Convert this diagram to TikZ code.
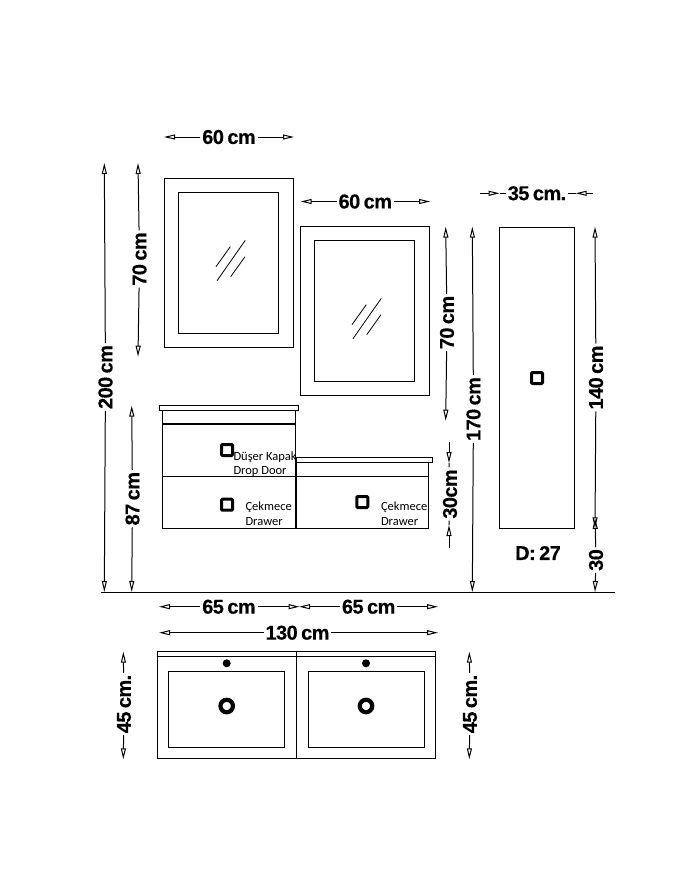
\documentclass[tikz,border=0pt]{standalone}
\usepackage{fontspec}
\setmainfont{Liberation Sans}
\newfontfamily\tagfont{Carlito}
\newfontfamily\dimfont[BoldFont=*,LetterSpace=-3,FakeBold=0.4,WordSpace=0.7]{Liberation Sans Bold}
\usetikzlibrary{
    arrows.meta,
    positioning
}

\begin{document}
\begin{tikzpicture}[x=1pt, y=-1pt, line width=1.1pt,
    dimlabel/.style={inner sep=2pt, outer sep=0pt, font=\dimfont\fontsize{20}{22}\selectfont},
    dimline/.style={line width=1pt, -{Triangle[open, length=11pt, width=5pt]}},
    dimstub/.style={line width=1pt},
    tag/.style={inner sep=0pt, anchor=west, font=\tagfont\fontsize{12.5}{13}\selectfont},
    handle/.style={line width=3pt, rounded corners=1pt}]
    \useasboundingbox (0,0) rectangle (700,880);

    % mirrors
    \foreach \dx/\dy/\gy in {0/0/0, 136/48/58} {
        \begin{scope}[shift={(\dx,\dy)}]
            \draw (164.5,178.5) rectangle (293.5,347.5);
            \draw (178.5,192.5) rectangle (278.5,333.5);
        \end{scope}
        \begin{scope}[shift={(\dx,\gy)}]
            \draw[line width=0.8pt] (216,266.7) -- (230.3,246.7)
                                    (217,280.7) -- (245.3,240.3)
                                    (230.7,276.7) -- (245,256.7);
        \end{scope}
    }

    % wall units
    \draw (159.3,405.3) rectangle (298.7,410.3);
    \draw (162.7,410.3) rectangle (295.7,528.3);
    \draw[line width=2pt] (162.7,424) -- (295.7,424);
    \draw (296,457.3) rectangle (432.7,462.3);
    \draw (296.7,462.3) rectangle (428.3,528.3);
    \draw (162.7,476.3) -- (428.3,476.3);
    \draw[line width=1.8pt] (296.2,462.3) -- (296.2,528.3);

    % tall cabinet
    \draw (499.5,227.3) rectangle (574.7,528.7);

    % handles
    \foreach \hx/\hy in {227/450, 227/504.7, 362.3/502, 537/378} {
        \draw[handle] (\hx-5.5,\hy-5.5) rectangle (\hx+5.5,\hy+5.5);
    }

    % floor
    \draw (101,592.5) -- (615,592.5);

    % basins from above
    \draw (157.3,651.3) rectangle (435.7,758.3);
    \draw (157.3,656.3) -- (435.7,656.3);
    \draw (296.4,651.3) -- (296.4,758.3);
    \draw (168.3,671.3) rectangle (284.7,747.3);
    \draw (308.3,671.3) rectangle (424.7,747.3);
    \foreach \bx in {226.7, 366} {
        \fill (\bx,663.3) circle [radius=4];
        \draw[line width=4.2pt] (\bx,706) circle [radius=6.25];
    }

    % labels on the fronts
    \node[tag] (dropA) at (233,457) {Düşer Kapak};
    \node[tag] (dropB) at (233,471) {Drop Door};
    \node[tag] (drawerA) at (245,507.5) {Çekmece};
    \node[tag] (drawerB) at (245,521.5) {Drawer};
    \node[tag] (drawerC) at (380.5,507.5) {Çekmece};
    \node[tag] (drawerD) at (380.5,521.5) {Drawer};

    % dimensions with tips at both ends
    \foreach \nm/\xa/\ya/\xb/\yb/\lx/\ly/\rot/\txt in {
        widthA/164/137/294/137/229/137/0/60 cm,
        widthB/300.7/201.5/430/201.5/365.3/201.5/0/60 cm,
        widthC/159/606.7/299.5/606.7/229/606.7/0/65 cm,
        widthD/299/606.7/438/606.7/368.7/606.7/0/65 cm,
        widthE/159/632.7/438/632.7/297.5/632.7/0/130 cm,
        highA/104.3/163/104.3/592/105.5/377/90/200 cm,
        highB/138/163/138/356.7/139.5/259/90/70 cm,
        highC/131.7/405.7/131.7/592/132.5/498.7/90/87 cm,
        highD/445.7/226.7/445.7/420.7/447/322.5/90/70 cm,
        highE/472.3/226.7/472.3/592/473.5/409/90/170 cm,
        highF/595/226.7/595/528.3/596/377.5/90/140 cm,
        highG/595/518/595/592/596/560/90/30,
        deepA/123.3/651.7/123.3/759.3/124/704/90/45 cm.,
        deepB/469.3/651.7/469.3/759.3/470/704/90/45 cm.
    } {
        \coordinate (\nm a) at (\xa,\ya);
        \coordinate (\nm b) at (\xb,\yb);
        \node[dimlabel, rotate=\rot] (\nm) at (\lx,\ly) {\txt};
        \draw[dimline] (\nm) -- (\nm a);
        \draw[dimline] (\nm) -- (\nm b);
    }

    % dimensions with tips pointing inwards
    \foreach \nm/\xa/\ya/\xb/\yb/\xc/\yc/\xd/\yd/\lx/\ly/\rot/\txt in {
        widthF/480/193.3/499.5/193.3/575.7/193.3/593/193.3/537/193.3/0/35 cm.,
        highH/449/441.7/449/463/449/525/449/548/450/494/90/30cm
    } {
        \coordinate (\nm a) at (\xa,\ya);
        \coordinate (\nm b) at (\xb,\yb);
        \coordinate (\nm c) at (\xc,\yc);
        \coordinate (\nm d) at (\xd,\yd);
        \node[dimlabel, rotate=\rot] (\nm) at (\lx,\ly) {\txt};
        \draw[dimline] (\nm a) -- (\nm b);
        \draw[dimline] (\nm d) -- (\nm c);
        \draw[dimstub] (\nm b) -- (\nm);
        \draw[dimstub] (\nm c) -- (\nm);
    }

    \node[dimlabel] (depth) at (538,553) {D: 27};
\end{tikzpicture}
\end{document}
